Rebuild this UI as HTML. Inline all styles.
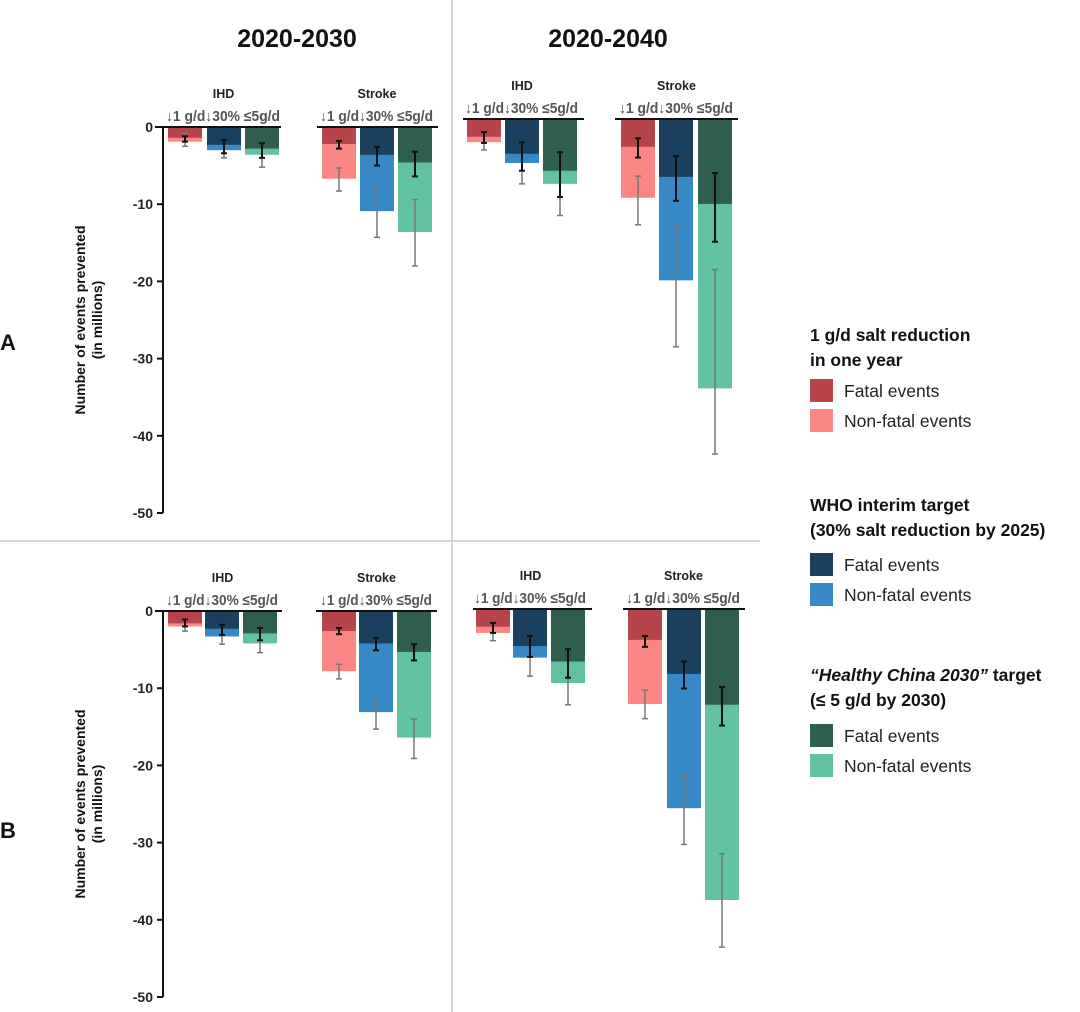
<!DOCTYPE html>
<html><head><meta charset="utf-8"><style>
body{margin:0;background:#fff;}
svg{display:block;font-family:"Liberation Sans",Arial,sans-serif;}
</style></head><body>
<svg id="c" width="1080" height="1012" viewBox="0 0 1080 1012"></svg>
<script>
// Data (values in millions of events prevented, negative)
const groups = ['IHD','Stroke'];
const scenarios = ['↓1 g/d','↓30%',' ≤5g/d'];
const yTicks = [0,-10,-20,-30,-40,-50];
// Each panel: fatal, total, fatal CI lo/hi, total CI lo/hi; order IHD(1g,30,5) Stroke(1g,30,5)
const a2030Fatal = [-1.4,-2.3,-2.8,-2.2,-3.6,-4.6];
const a2030Total = [-1.9,-3.0,-3.6,-6.7,-10.9,-13.6];
const a2030FatalLo = [-1.2,-1.7,-2.1,-1.8,-2.6,-3.2];
const a2030FatalHi = [-1.9,-3.4,-4.0,-2.8,-5.0,-6.4];
const a2030TotalLo = [-0.8,-1.7,-2.1,-5.3,-7.7,-9.4];
const a2030TotalHi = [-2.5,-4.0,-5.2,-8.3,-14.3,-18.0];
const a2040Fatal = [-2.3,-4.5,-6.7,-3.6,-7.5,-11.0];
const a2040Total = [-3.0,-5.7,-8.4,-10.2,-20.9,-34.9];
const a2040FatalLo = [-1.7,-3.0,-4.3,-2.5,-4.8,-7.0];
const a2040FatalHi = [-3.1,-6.7,-10.1,-5.0,-10.6,-15.9];
const a2040TotalLo = [-1.7,-3.0,-4.3,-7.4,-13.6,-19.5];
const a2040TotalHi = [-4.0,-8.4,-12.5,-13.7,-29.5,-43.4];
const b2030Fatal = [-1.6,-2.3,-2.9,-2.6,-4.2,-5.3];
const b2030Total = [-2.0,-3.3,-4.2,-7.8,-13.1,-16.4];
const b2030FatalLo = [-1.1,-1.8,-2.2,-2.2,-3.5,-4.3];
const b2030FatalHi = [-2.0,-3.1,-3.8,-3.0,-5.1,-6.4];
const b2030TotalLo = [-1.1,-1.8,-2.2,-6.9,-11.2,-14.0];
const b2030TotalHi = [-2.6,-4.3,-5.4,-8.8,-15.3,-19.1];
const b2040Fatal = [-2.3,-4.8,-6.8,-4.0,-8.4,-12.4];
const b2040Total = [-3.1,-6.3,-9.6,-12.3,-25.8,-37.7];
const b2040FatalLo = [-1.8,-3.5,-5.2,-3.5,-6.8,-10.1];
const b2040FatalHi = [-3.1,-6.2,-8.9,-4.9,-10.3,-15.1];
const b2040TotalLo = [-1.8,-3.5,-5.2,-10.5,-21.7,-31.7];
const b2040TotalHi = [-4.1,-8.7,-12.4,-14.2,-30.5,-43.8];

const fatalColors = ['#b8444b','#1b3f5f','#2f5e4f'];
const nonFatalColors = ['#fb8686','#3689c4','#62c1a3'];

const NS='http://www.w3.org/2000/svg';
const svg=document.getElementById('c');
function el(tag,attrs,parent){const e=document.createElementNS(NS,tag);for(const k in attrs)e.setAttribute(k,attrs[k]);(parent||svg).appendChild(e);return e;}
function txt(s,attrs,parent){const e=el('text',attrs,parent);e.textContent=s;return e;}

const SCALE=7.72;
const panels=[
 {name:'panel-a-2020-2030',zero:127,groupX:[[168,207,245],[322,360,398]],lineX:[[155,281],[317,438]],axis:true,d:[a2030Fatal,a2030Total,a2030FatalLo,a2030FatalHi,a2030TotalLo,a2030TotalHi]},
 {name:'panel-a-2020-2040',zero:119,groupX:[[467,505,543],[621,659,698]],lineX:[[463,584],[615,738]],axis:false,d:[a2040Fatal,a2040Total,a2040FatalLo,a2040FatalHi,a2040TotalLo,a2040TotalHi]},
 {name:'panel-b-2020-2030',zero:611,groupX:[[168,205,243],[322,359,397]],lineX:[[155,282],[316,437]],axis:true,d:[b2030Fatal,b2030Total,b2030FatalLo,b2030FatalHi,b2030TotalLo,b2030TotalHi]},
 {name:'panel-b-2040',zero:609,groupX:[[476,513,551],[628,667,705]],lineX:[[473,592],[623,745]],axis:false,d:[b2040Fatal,b2040Total,b2040FatalLo,b2040FatalHi,b2040TotalLo,b2040TotalHi]}
];
const BW=34;

let d1=el('line',{x1:452,y1:0,x2:452,y2:1012,stroke:'#c8c8c8','stroke-width':1.5});


let d2=el('line',{x1:0,y1:541,x2:760,y2:541,stroke:'#c8c8c8','stroke-width':1.5});



panels.forEach(p=>{
  const g=el('g',{});
  
  
  const yv=v=>p.zero + (-v)*SCALE;
  if(p.axis){
    const ax=el('line',{x1:163,y1:p.zero,x2:163,y2:yv(-50),stroke:'#111','stroke-width':2},g);
    
    
    yTicks.forEach(t=>{
      const tk=el('line',{x1:157,y1:yv(t),x2:163,y2:yv(t),stroke:'#111','stroke-width':2},g);
      
      
      const tl=txt(String(t),{x:153,y:yv(t)+5,'text-anchor':'end','font-size':14,'font-weight':'bold',fill:'#222'},g);
      
      
    });
    const cy=(p.zero+yv(-50))/2;
    const yt=txt('Number of events prevented',{x:0,y:0,'text-anchor':'middle','font-size':14,'font-weight':'bold',fill:'#111',transform:`translate(85,${cy}) rotate(-90)`},g);
    
    
    const yt2=txt('(in millions)',{x:0,y:0,'text-anchor':'middle','font-size':14,'font-weight':'bold',fill:'#111',transform:`translate(102,${cy}) rotate(-90)`},g);
    
    
  }
  groups.forEach((gn,gi)=>{
    const [lx1,lx2]=p.lineX[gi];
    const x0=p.groupX[gi][0], x2=p.groupX[gi][2]+BW;
    const cx=(x0+x2)/2;
    const gl=txt(gn,{x:cx,y:p.zero-29,'text-anchor':'middle','font-size':12.5,'font-weight':'bold',fill:'#222'},g);
    
    
    const sl=txt(scenarios.join(''),{x:x0-2,y:p.zero-6,'font-size':14.5,'font-weight':'bold',fill:'#555',textLength:x2-x0+3,lengthAdjust:'spacingAndGlyphs'},g);
    
    
    scenarios.forEach((s,si)=>{
      const bx=p.groupX[gi][si];
      const i=gi*3+si;
      const [F,T,FL,FH,TL,TH]=p.d.map(a=>a[i]);
      const rt=el('rect',{x:bx,y:p.zero,width:BW,height:yv(T)-p.zero,fill:nonFatalColors[si]},g);
      
      
      const rf=el('rect',{x:bx,y:p.zero,width:BW,height:yv(F)-p.zero,fill:fatalColors[si]},g);
      
      
      const ex=bx+BW/2;
      [[TL,TH,'#777',1.5,'error-bar-total'],[FL,FH,'#111',2,'error-bar-fatal']].forEach(([lo,hi,c,w,nm])=>{
        const eg=el('g',{stroke:c,'stroke-width':w},g);
        
        
        el('line',{x1:ex,y1:yv(lo),x2:ex,y2:yv(hi)},eg);
        el('line',{x1:ex-3,y1:yv(lo),x2:ex+3,y2:yv(lo)},eg);
        el('line',{x1:ex-3,y1:yv(hi),x2:ex+3,y2:yv(hi)},eg);
      });
    });
    const zl=el('line',{x1:lx1,y1:p.zero,x2:lx2,y2:p.zero,stroke:'#111','stroke-width':2},g);
    
    
  });
});

const h1=txt('2020-2030',{x:297,y:47,'text-anchor':'middle','font-size':25,'font-weight':'bold',fill:'#111'});


const h2=txt('2020-2040',{x:608,y:47,'text-anchor':'middle','font-size':25,'font-weight':'bold',fill:'#111'});


const la=txt('A',{x:0,y:350,'font-size':22,'font-weight':'bold',fill:'#111'});


const lb=txt('B',{x:0,y:838,'font-size':22,'font-weight':'bold',fill:'#111'});



const legendTitles=[['1 g/d salt reduction','in one year'],['WHO interim target','(30% salt reduction by 2025)'],['','(≤ 5 g/d by 2030)']];
const legendTop=[335,505,675];
const legendSw=[379,553,724];
legendTitles.forEach((lt,i)=>{
  const lg=el('g',{});
  
  
  const t1=txt(lt[0],{x:810,y:legendTop[i]+6,'font-size':17.5,'font-weight':'bold',fill:'#111'},lg);
  if(i===2){
    const a=el('tspan',{'font-style':'italic'},t1);a.textContent='“Healthy China 2030”';
    const b=el('tspan',{},t1);b.textContent=' target';
  }
  
  
  const t2=txt(lt[1],{x:810,y:legendTop[i]+31,'font-size':17.5,'font-weight':'bold',fill:'#111'},lg);
  
  
  [['Fatal events',fatalColors[i]],['Non-fatal events',nonFatalColors[i]]].forEach(([lab,c],k)=>{
    const sy=legendSw[i]+k*30;
    const r=el('rect',{x:810,y:sy,width:23,height:23,fill:c},lg);
    
    
    const t=txt(lab,{x:844,y:sy+18,'font-size':17.5,fill:'#222'},lg);
    
    
  });
});
</script>
</body></html>
